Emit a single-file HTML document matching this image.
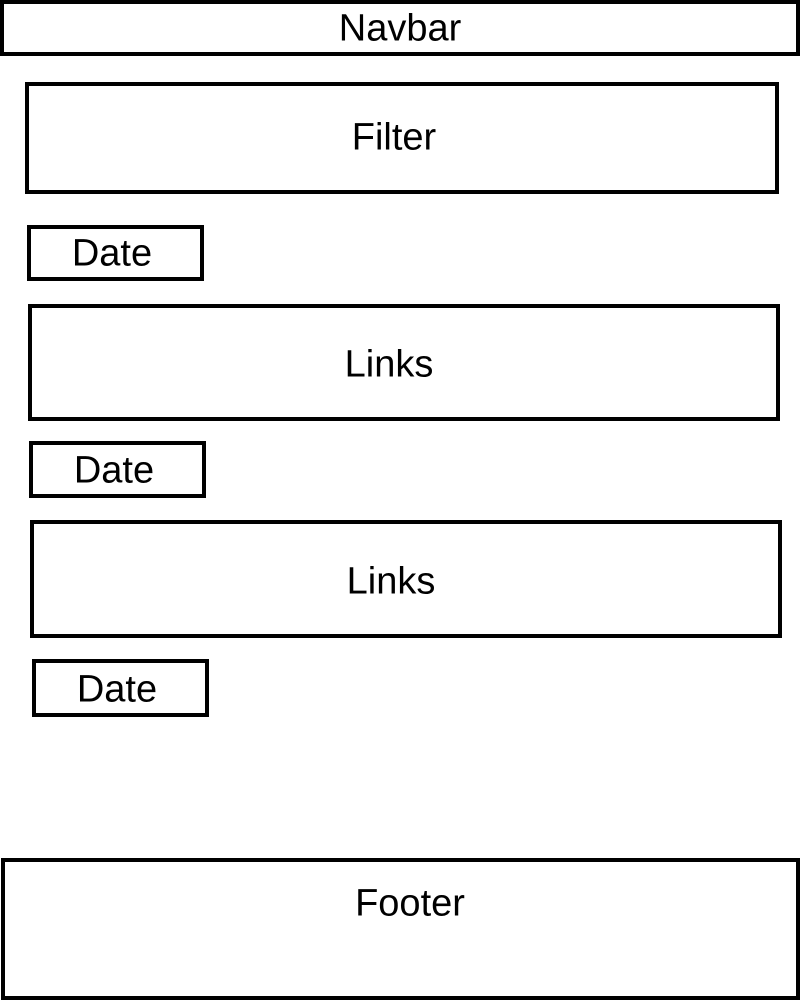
<!DOCTYPE html>
<html><head><style>
body{margin:0;width:800px;height:1000px;background:#fff;position:relative;overflow:hidden;font-family:"Liberation Sans",sans-serif}
.b{position:absolute;box-sizing:border-box;border:4px solid #000;color:#000;font-size:38px}
.b span{position:absolute;transform:translate(-50%,-50%);white-space:nowrap}
</style></head><body>
<div class="b" style="left:0;top:0;width:800px;height:56px"><span style="left:396px;top:25px">Navbar</span></div>
<div class="b" style="left:25px;top:82px;width:754px;height:112px"><span style="left:365px;top:52px">Filter</span></div>
<div class="b" style="left:27px;top:225px;width:177px;height:56px"><span style="left:81px;top:25px">Date</span></div>
<div class="b" style="left:28px;top:304px;width:752px;height:117px"><span style="left:357px;top:57px">Links</span></div>
<div class="b" style="left:29px;top:441px;width:177px;height:57px"><span style="left:81px;top:26px">Date</span></div>
<div class="b" style="left:30px;top:520px;width:752px;height:118px"><span style="left:357px;top:58px">Links</span></div>
<div class="b" style="left:32px;top:659px;width:177px;height:58px"><span style="left:81px;top:27px">Date</span></div>
<div class="b" style="left:1px;top:858px;width:799px;height:142px"><span style="left:405px;top:42px">Footer</span></div>
</body></html>
